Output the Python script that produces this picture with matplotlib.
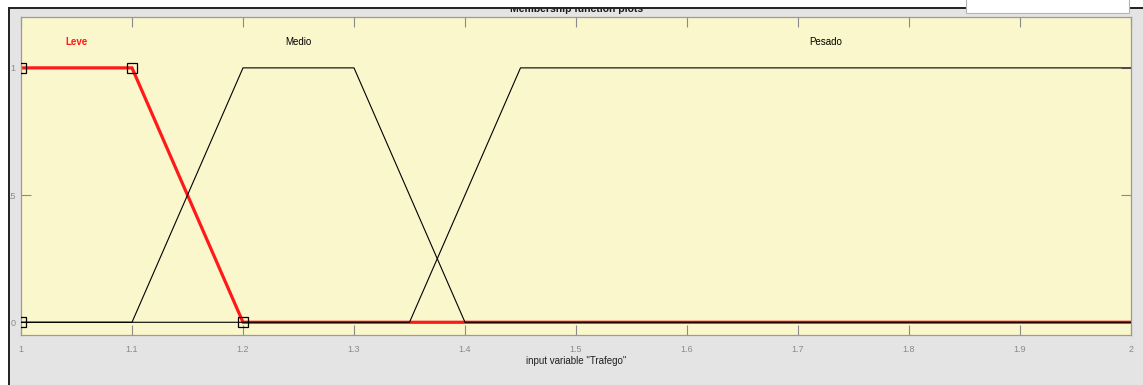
import matplotlib
matplotlib.use("Agg")
import matplotlib.pyplot as plt
from matplotlib.patches import Rectangle

plt.rcParams['font.family'] = ['Liberation Sans Narrow', 'Liberation Sans', 'DejaVu Sans']

# Membership functions of the input variable "Trafego" (breakpoints and degrees)
leve_x = [1.0, 1.1, 1.2, 2.0]
leve_y = [1.0, 1.0, 0.0, 0.0]
leve_vertices_x = [1.0, 1.0, 1.1, 1.2]
leve_vertices_y = [0.0, 1.0, 1.0, 0.0]

medio_x = [1.0, 1.1, 1.2, 1.3, 1.4, 2.0]
medio_y = [0.0, 0.0, 1.0, 1.0, 0.0, 0.0]

pesado_x = [1.0, 1.35, 1.45, 2.0]
pesado_y = [0.0, 0.0, 1.0, 1.0]

mf_names = ["Leve", "Medio", "Pesado"]
mf_label_x = [1.05, 1.25, 1.725]
mf_label_y = 1.1

x_ticks = [1.0, 1.1, 1.2, 1.3, 1.4, 1.5, 1.6, 1.7, 1.8, 1.9, 2.0]
x_tick_labels = ["1", "1.1", "1.2", "1.3", "1.4", "1.5", "1.6", "1.7", "1.8", "1.9", "2"]
y_ticks = [0.0, 0.5, 1.0]
y_tick_labels = ["0", ".5", "1"]

W, H = 1143, 385
fig = plt.figure(figsize=(W / 100, H / 100), dpi=100)
fig.patch.set_facecolor("#e4e4e4")

ax_l, ax_r, ax_t, ax_b = 21, 1131, 17, 335
ax = fig.add_axes([ax_l / W, 1 - ax_b / H, (ax_r - ax_l) / W, (ax_b - ax_t) / H])
ax.set_facecolor("#fbf7cc")

# selected function in red, drawn beneath the others
ax.plot(leve_x, leve_y, color="#ff1a1a", lw=2.3, zorder=2, solid_joinstyle="miter")
ax.plot(medio_x, medio_y, color="black", lw=0.8, zorder=3)
ax.plot(pesado_x, pesado_y, color="black", lw=0.8, zorder=3)
ax.plot(leve_vertices_x, leve_vertices_y, ls="none", marker="s", ms=7.2,
        mfc="none", mec="black", mew=0.9, zorder=4)

for name, lx in zip(mf_names, mf_label_x):
    if name == "Leve":
        ax.text(lx, mf_label_y, name, color="#ff1a1a", fontsize=7, fontweight="bold",
                ha="center", va="center")
    else:
        ax.text(lx, mf_label_y, name, color="black", fontsize=7,
                ha="center", va="center")

ax.set_xlim(1.0, 2.0)
ax.set_ylim(-0.05, 1.2)
ax.set_xticks(x_ticks)
ax.set_xticklabels(x_tick_labels)
ax.set_yticks(y_ticks)
ax.set_yticklabels(y_tick_labels)
ax.tick_params(axis="both", direction="in", length=7, width=0.8, color="#8a8a8a",
               labelcolor="#8a8a8a", labelsize=6.5)
ax.tick_params(axis="x", top=True, pad=7)
ax.tick_params(axis="y", right=True, pad=4)
for sp in ax.spines.values():
    sp.set_color("#9a9a9a")
    sp.set_linewidth(0.9)

ax.set_xlabel('input variable "Trafego"', fontsize=7, color="#202020", labelpad=2)

# panel title, partly hidden by the window frame above
fig.text(577 / W, 1 - 12.5 / H, "Membership function plots", fontsize=7.5, fontweight="bold",
         ha="center", va="baseline", color="#1a1a1a", zorder=3)

def px_rect(x0, y0, x1, y1, **kw):
    fig.add_artist(Rectangle((x0 / W, 1 - y1 / H), (x1 - x0) / W, (y1 - y0) / H,
                             transform=fig.transFigure, **kw))

# window frame
px_rect(0, 0, W, 7, facecolor="white", edgecolor="none", zorder=20)
px_rect(0, 0, 7.5, H, facecolor="white", edgecolor="none", zorder=20)
px_rect(7.5, 6.8, W, 9, facecolor="#262626", edgecolor="none", zorder=21)
px_rect(7.5, 6.8, 9.8, H, facecolor="#262626", edgecolor="none", zorder=21)
# edit box at top right
px_rect(966, -2, 1129, 12.5, facecolor="white", edgecolor="#b4b4b4", lw=0.8, zorder=22)

fig.savefig("out.png", dpi=100, facecolor=fig.get_facecolor())
